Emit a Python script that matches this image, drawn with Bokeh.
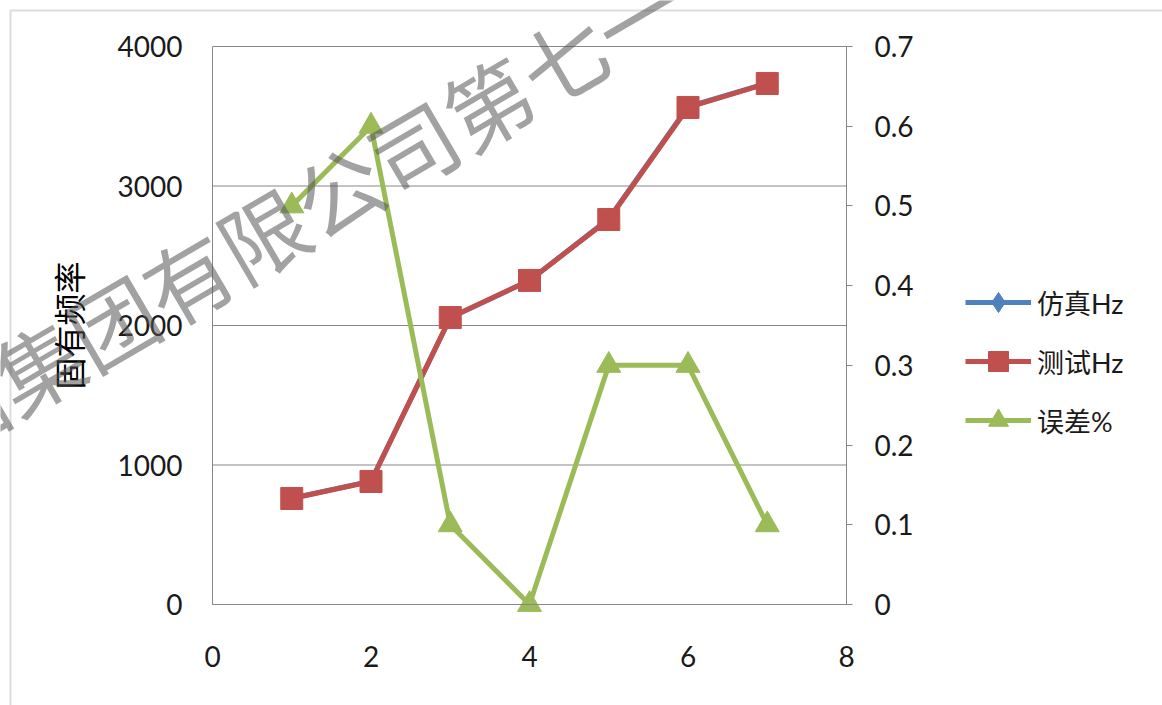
from bokeh.plotting import figure
from bokeh.models import (Range1d, LinearAxis, FixedTicker, Legend, LegendItem,
                          Label, BoxAnnotation)
from bokeh.embed import file_html
from bokeh.resources import INLINE

# Mode number, simulated and measured natural frequencies, and relative error
modes = [1, 2, 3, 4, 5, 6, 7]
sim_hz = [762, 884, 2055, 2323, 2765, 3568, 3737]
test_hz = [760, 882, 2057, 2323, 2760, 3563, 3735]
err_pct = [0.5, 0.6, 0.1, 0.0, 0.3, 0.3, 0.1]

x_ticks = [0, 2, 4, 6, 8]
left_ticks = [0, 1000, 2000, 3000, 4000]
right_ticks = [0, 0.1, 0.2, 0.3, 0.4, 0.5, 0.6, 0.7]

series_names = ["仿真Hz", "测试Hz", "误差%"]
y_title = "固有频率"
watermark = "中国船舶集团有限公司第七一一研究所"

# page and plot-area geometry (pixels)
W, H = 1162, 705
PA_LEFT, PA_RIGHT, PA_TOP, PA_BOTTOM = 212, 846, 46, 604
X0, X1 = x_ticks[0], x_ticks[-1]
Y0, Y1 = left_ticks[0], left_ticks[-1]
E0, E1 = right_ticks[0], right_ticks[-1]
kx = (PA_RIGHT - PA_LEFT) / (X1 - X0)
ky = (PA_BOTTOM - PA_TOP) / (Y1 - Y0)
ke = (PA_BOTTOM - PA_TOP) / (E1 - E0)

BLUE = "#4F81BD"
RED = "#C0504D"
GREEN = "#9BBB59"
GRID = "#878787"
TXT = "#1a1a1a"
NUM_FONT = "Lato"
CJK_FONT = "Noto Sans CJK SC"

# The frame fills the whole page; the plot area is the [0,8] x [0,4000] box inside it
p = figure(width=W, height=H,
           x_range=Range1d(X0 - PA_LEFT / kx, X1 + (W - PA_RIGHT) / kx),
           y_range=Range1d(Y0 - (H - PA_BOTTOM) / ky, Y1 + PA_TOP / ky),
           output_backend="svg", toolbar_location=None,
           x_axis_location=None, y_axis_location=None, min_border=0,
           background_fill_color="white", border_fill_color="white")
p.extra_y_ranges = {"err": Range1d(E0 - (H - PA_BOTTOM) / ke, E1 + PA_TOP / ke)}
p.grid.visible = False
p.outline_line_color = None

# horizontal gridlines across the plot area
p.segment(x0=[X0] * len(left_ticks), x1=[X1] * len(left_ticks),
          y0=left_ticks, y1=left_ticks, line_color=GRID, line_width=1)

# left axis
ya = LinearAxis(ticker=FixedTicker(ticks=left_ticks), fixed_location=X0, bounds=(Y0, Y1))
ya.axis_line_color = GRID
ya.major_tick_line_color = None
ya.minor_tick_line_color = None
ya.major_label_standoff = 24
ya.major_label_text_font = NUM_FONT
ya.major_label_text_font_size = "28px"
ya.major_label_text_color = TXT
ya.axis_label = y_title
ya.axis_label_text_font = CJK_FONT
ya.axis_label_text_font_size = "32px"
ya.axis_label_text_font_style = "normal"
ya.axis_label_text_color = "#000000"
ya.axis_label_standoff = 24
p.add_layout(ya, "left")

# bottom axis
xa = LinearAxis(ticker=FixedTicker(ticks=x_ticks), fixed_location=Y0, bounds=(X0, X1))
xa.axis_line_color = GRID
xa.major_tick_line_color = None
xa.minor_tick_line_color = None
xa.major_label_standoff = 35
xa.major_label_text_font = NUM_FONT
xa.major_label_text_font_size = "28px"
xa.major_label_text_color = TXT
p.add_layout(xa, "below")

# right (error) axis
ra = LinearAxis(y_range_name="err", ticker=FixedTicker(ticks=right_ticks),
                fixed_location=X1, bounds=(E0, E1))
ra.major_label_overrides = {t: f"{t:g}" for t in right_ticks}
ra.axis_line_color = GRID
ra.major_tick_line_color = GRID
ra.major_tick_out = 6
ra.major_tick_in = 0
ra.minor_tick_line_color = None
ra.major_label_standoff = 22
ra.major_label_text_font = NUM_FONT
ra.major_label_text_font_size = "28px"
ra.major_label_text_color = TXT
p.add_layout(ra, "right")

# series
b_line = p.line(modes, sim_hz, line_color=BLUE, line_width=5)
b_pts = p.scatter(modes, sim_hz, marker="diamond", size=18, fill_color=BLUE, line_color=BLUE)
r_line = p.line(modes, test_hz, line_color=RED, line_width=5)
r_pts = p.scatter(modes, test_hz, marker="square", size=22, fill_color=RED, line_color=RED)
g_line = p.line(modes, err_pct, line_color=GREEN, line_width=5, y_range_name="err")
g_pts = p.scatter(modes, err_pct, marker="triangle", size=24, fill_color=GREEN,
                  line_color=GREEN, y_range_name="err")

legend = Legend(items=[
    LegendItem(label=series_names[0], renderers=[b_line, b_pts]),
    LegendItem(label=series_names[1], renderers=[r_line, r_pts]),
    LegendItem(label=series_names[2], renderers=[g_line, g_pts]),
], location=(965, 260))
legend.glyph_width = 66
legend.glyph_height = 50
legend.label_standoff = 6
legend.spacing = 9
legend.padding = 0
legend.margin = 0
legend.border_line_color = None
legend.background_fill_alpha = 0
legend.label_text_font = "Lato, 'Noto Sans CJK SC'"
legend.label_text_font_size = "27px"
legend.label_text_color = TXT
legend.label_text_baseline = "middle"
p.add_layout(legend)

# chart-area border
p.add_layout(BoxAnnotation(left=X0 + (10 - PA_LEFT) / kx, right=X1 * 3,
                           top=Y0 + (PA_BOTTOM - 10) / ky, bottom=-Y1,
                           fill_alpha=0, line_color="#8a8a8a", line_width=2))

# diagonal watermark
p.add_layout(Label(x=X0 + (-302 - PA_LEFT) / kx, y=Y0 + (PA_BOTTOM - 561) / ky,
                   text=watermark, angle=0.5288,
                   text_font=CJK_FONT, text_font_size="87px",
                   text_color="#555555", text_alpha=0.55,
                   text_align="left", text_baseline="middle", level="overlay"))

open("out.html", "w").write(file_html(p, INLINE))
